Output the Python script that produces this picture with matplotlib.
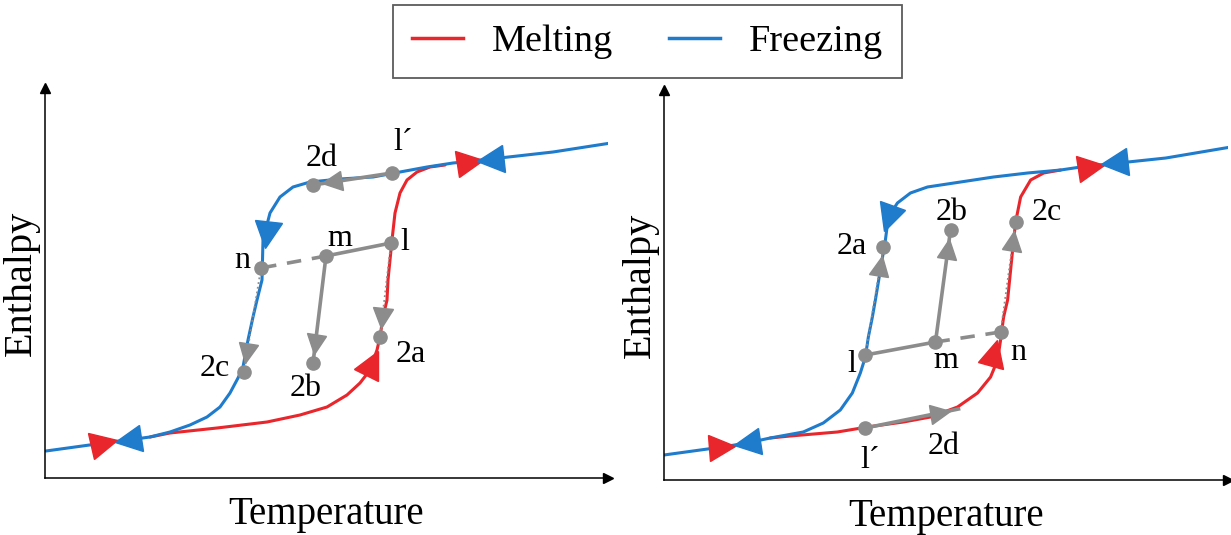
import numpy as np
import matplotlib.pyplot as plt
from matplotlib.lines import Line2D
from matplotlib.markers import MarkerStyle
from matplotlib.transforms import Affine2D

plt.rcParams['font.family'] = ['Liberation Serif', 'DejaVu Serif']

RED = '#e8262b'
BLUE = '#1f7bcb'
GRAY = '#8c8c8c'

############################
# DATA (schematic units)
############################

# Left panel: cooling starts on the melting curve
L_melt_T = [105, 125, 172, 222, 255, 282, 302, 315, 325, 332, 335, 338, 342, 343, 347, 350,
            355, 362, 372, 385, 400]
L_melt_H = [41, 45, 50, 56, 63, 71, 83, 95, 108, 128, 141, 161, 178, 198, 238, 265,
            285, 298, 306, 311, 313]
L_freeze_T = [1, 59, 83, 105, 125, 145, 162, 175, 185, 193, 198, 203, 208, 212, 217,
              218, 225, 235, 248, 265, 295, 328, 355, 382, 408, 428, 508, 566]
L_freeze_H = [27, 35, 38, 41, 46, 53, 61, 71, 85, 100, 111, 138, 161, 178, 198,
              238, 265, 281, 291, 296, 299, 301, 306, 311, 315, 317, 326, 335]

L_pt_names = ["l", "m", "n", "2a", "2b", "2c", "l´", "2d"]
L_pt_T = [346, 281, 216, 335, 268, 199, 347, 268]
L_pt_H = [235, 222, 210, 141, 115, 106, 305, 293]

# Right panel: heating starts on the freezing curve
R_melt_T = [106, 126, 173, 203, 239, 266, 293, 313, 326, 333, 336, 339, 343, 348, 351, 356,
            366, 379, 396]
R_melt_H = [42, 44, 48, 53, 58, 63, 73, 87, 103, 120, 140, 163, 180, 230, 258, 283,
            300, 307, 310]
R_freeze_T = [0, 58, 83, 106, 139, 159, 176, 188, 196, 201, 204, 208, 211, 216, 221,
              224, 233, 246, 263, 296, 329, 363, 396, 416, 501, 566]
R_freeze_H = [25, 33, 37, 42, 48, 57, 70, 87, 107, 123, 143, 163, 180, 210, 240,
              263, 277, 287, 293, 298, 303, 307, 310, 313, 322, 333]

R_pt_names = ["l", "m", "n", "2a", "2b", "2c", "l´", "2d"]
R_pt_T = [201, 271, 336, 219, 286, 351, 201, 294]
R_pt_H = [125, 138, 148, 233, 250, 258, 52, 71]

# gray paths: (from, to, linestyle, arrow)
paths = [("l", "m", "-", False), ("m", "n", "--", False), ("m", "2b", "-", True),
         ("l", "2a", ":", True), ("n", "2c", ":", True), ("l´", "2d", "-", True)]

# direction triangles: (curve, T, H, forward along increasing T?)
L_tri = [("melt", 59, 35, 1), ("freeze", 83, 38, -1), ("melt", 425, 316, 1),
         ("freeze", 445, 318, -1), ("freeze", 222, 243, -1), ("melt", 327, 115, 1)]
R_tri = [("melt", 58, 33, 1), ("freeze", 83, 37, -1), ("melt", 426, 313, 1),
         ("freeze", 449, 317, -1), ("freeze", 224, 262, -1), ("melt", 329, 127, 1)]

# label offsets (pixels) from each point
L_lab = {"l": (14, 0), "m": (14, 17), "n": (-19, 8), "2a": (31, -18), "2b": (-7, -25),
         "2c": (-29, 4), "l´": (11, 30), "2d": (9, 27)}
R_lab = {"l": (-14, -10), "m": (10, -18), "n": (18, -21), "2a": (-32, 0), "2b": (1, 18),
         "2c": (31, 10), "l´": (5, -32), "2d": (-15, -38)}
R_nodot = ["2d"]


def tri_marker(angle):
    return MarkerStyle('^', transform=Affine2D().rotate_deg(angle - 90))


def tangent_angle(T, H, x, y):
    # angle (deg) of the curve near (x, y)
    T = np.asarray(T, float)
    H = np.asarray(H, float)
    i = int(np.argmin(np.hypot(T - x, H - y)))
    i0, i1 = max(i - 1, 0), min(i + 1, len(T) - 1)
    return np.degrees(np.arctan2(H[i1] - H[i0], T[i1] - T[i0]))


def draw_panel(ax, melt_T, melt_H, freeze_T, freeze_H, names, pT, pH, tris, labs, nodot=()):
    ax.plot(melt_T, melt_H, color=RED, lw=2.2, zorder=2, solid_capstyle='round',
            solid_joinstyle='round')
    ax.plot(freeze_T, freeze_H, color=BLUE, lw=2.2, zorder=2, solid_capstyle='round',
            solid_joinstyle='round')

    pts = {n: (t, h) for n, t, h in zip(names, pT, pH)}
    for a, b, ls, arrow in paths:
        x0, y0 = pts[a]
        x1, y1 = pts[b]
        lw = 1.3 if ls == ":" else 2.6
        dash = (0, (4, 3)) if ls == "--" else ls
        ax.plot([x0, x1], [y0, y1], color=GRAY, lw=lw, linestyle=dash, zorder=3)
        if arrow:
            d = np.hypot(x1 - x0, y1 - y0)
            ux, uy = (x1 - x0) / d, (y1 - y0) / d
            ang = np.degrees(np.arctan2(uy, ux))
            ax.plot(x1 - 19 * ux, y1 - 19 * uy, marker=tri_marker(ang), ms=14,
                    color=GRAY, zorder=4, lw=0)
    for n, (x, y) in pts.items():
        if n not in nodot:
            ax.plot(x, y, 'o', color=GRAY, ms=9.5, zorder=5)
        dx, dy = labs[n]
        ax.text(x + dx, y + dy, n, fontsize=23, ha='center', va='center', zorder=6)

    for curve, x, y, sgn in tris:
        T, H, col = (melt_T, melt_H, RED) if curve == "melt" else (freeze_T, freeze_H, BLUE)
        ang = tangent_angle(T, H, x, y)
        if sgn < 0:
            ang += 180
        ax.plot(x, y, marker=tri_marker(ang), ms=19, color=col, zorder=7, lw=0)

    ax.set_xlim(0, 563)
    ax.set_ylim(0, 390)
    ax.spines[['top', 'right']].set_visible(False)
    for s in ['left', 'bottom']:
        ax.spines[s].set_linewidth(1.1)
    ax.set_xticks([])
    ax.set_yticks([])
    ax.patch.set_alpha(0)
    ax.plot(1, 0, '>k', ms=7, transform=ax.transAxes, clip_on=False)
    ax.plot(0, 1, '^k', ms=7, transform=ax.transAxes, clip_on=False)
    ax.set_xlabel("Temperature", fontsize=28, labelpad=13)
    ax.set_ylabel("Enthalpy", fontsize=29, labelpad=4)


fig = plt.figure(figsize=(12.31, 5.35), dpi=100)
ax1 = fig.add_axes([45 / 1231, 57 / 535, 563 / 1231, 390 / 535])
ax2 = fig.add_axes([664 / 1231, 55 / 535, 564 / 1231, 390 / 535])

draw_panel(ax1, L_melt_T, L_melt_H, L_freeze_T, L_freeze_H,
           L_pt_names, L_pt_T, L_pt_H, L_tri, L_lab)
draw_panel(ax2, R_melt_T, R_melt_H, R_freeze_T, R_freeze_H,
           R_pt_names, R_pt_T, R_pt_H, R_tri, R_lab, R_nodot)

handles = [Line2D([], [], color=RED, lw=2.5), Line2D([], [], color=BLUE, lw=2.5)]
leg = fig.legend(handles, ["Melting", "Freezing"], loc='upper center',
                 bbox_to_anchor=(0.526, 0.99), ncol=2, fontsize=27.5, frameon=True,
                 fancybox=False, edgecolor='#333333', handlelength=1.35,
                 handletextpad=0.75, columnspacing=1.45, borderpad=0.5,
                 borderaxespad=0)
leg.get_frame().set_linewidth(1.3)

fig.savefig("out.png", dpi=100)
